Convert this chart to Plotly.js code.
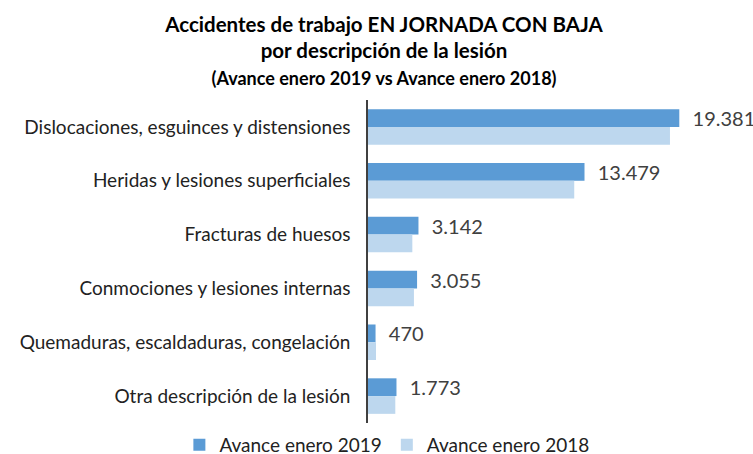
<!DOCTYPE html>
<html>
<head>
<meta charset="utf-8">
<script src="https://cdn.plot.ly/plotly-3.0.1.min.js"></script>
<style>html,body{margin:0;padding:0;background:#fff;}</style>
</head>
<body>
<div id="chart" style="width:753px;height:454px;"></div>
<script>
var categories = [
  "Dislocaciones, esguinces y distensiones",
  "Heridas y lesiones superficiales",
  "Fracturas de huesos",
  "Conmociones y lesiones internas",
  "Quemaduras, escaldaduras, congelación",
  "Otra descripción de la lesión"
];
var values2019 = [19381, 13479, 3142, 3055, 470, 1773];
var values2018 = [18800, 12840, 2760, 2860, 500, 1700];
var seriesNames = ["Avance enero 2019", "Avance enero 2018"];

var trace2019 = {
  type: "bar", orientation: "h",
  name: seriesNames[0],
  y: categories, x: values2019,
  marker: {color: "#5B9BD5"},
  texttemplate: "\u00a0\u00a0%{x:,.0f}",
  textposition: "outside",
  constraintext: "none",
  textfont: {family: "Lato, sans-serif", size: 20, color: "#404040"},
  cliponaxis: false,
  hoverinfo: "x+y"
};
var trace2018 = {
  type: "bar", orientation: "h",
  name: seriesNames[1],
  y: categories, x: values2018,
  marker: {color: "#BDD7EE"},
  hoverinfo: "x+y"
};

var layout = {
  width: 753, height: 454,
  separators: ",.",
  font: {family: "Lato, sans-serif", size: 16, color: "#222"},
  margin: {l: 368, r: 10, t: 100, b: 31, autoexpand: false},
  barmode: "group",
  bargap: 0.34,
  bargroupgap: 0,
  paper_bgcolor: "#fff",
  plot_bgcolor: "#fff",
  title: {
    text: "<b>Accidentes de trabajo EN JORNADA CON BAJA<br>por descripción de la lesión<br><span style='font-size:18px'>(Avance enero 2019 vs Avance enero 2018)</span></b>",
    font: {family: "Lato, sans-serif", size: 20.5, color: "#000"},
    x: 0.51, xanchor: "center",
    y: 0.93, yanchor: "top", yref: "container",
    automargin: false
  },
  xaxis: {
    range: [0, 23347],
    showgrid: false, zeroline: false, showticklabels: false, showline: false, ticks: "",
    automargin: false
  },
  yaxis: {
    autorange: "reversed",
    showline: true, linecolor: "#404040", linewidth: 1.5,
    ticks: "", ticklen: 0,
    ticklabelstandoff: 12,
    tickfont: {family: "Lato, sans-serif", size: 19, color: "#222"},
    automargin: false
  },
  showlegend: true,
  legend: {
    orientation: "h",
    xref: "paper", x: -0.503, xanchor: "left",
    yref: "paper", y: -0.068, yanchor: "middle",
    font: {family: "Lato, sans-serif", size: 19, color: "#222"},
    traceorder: "normal"
  }
};

Plotly.newPlot("chart", [trace2019, trace2018], layout, {displayModeBar: false});
</script>
</body>
</html>
